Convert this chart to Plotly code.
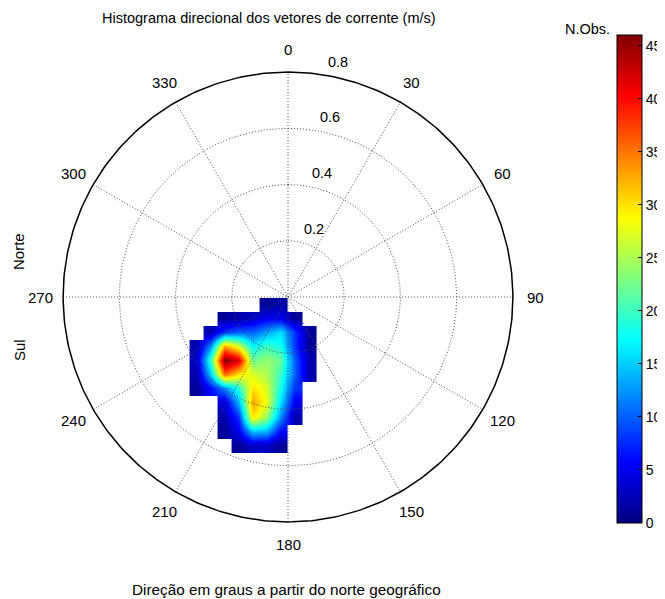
import numpy as np
import plotly.graph_objects as go

# ---------------- data ----------------
# velocity bins (m/s, bin centres): east (u) and north (v) components; values = number of observations
u_bins = [-0.375, -0.325, -0.275, -0.225, -0.175, -0.125, -0.075, -0.025, 0.025, 0.075, 0.125]
v_bins = [-0.575, -0.525, -0.475, -0.425, -0.375, -0.325, -0.275, -0.225, -0.175, -0.125, -0.075, -0.025, 0.025]
N = None
n_obs = [
    [N, N, N, N,  N,  N,  N,  N,  N, N, N],    # v = -0.575
    [N, N, N, N,  1,  3,  3,  1,  N, N, N],    # v = -0.525
    [N, N, N, 1,  5, 15, 14,  6,  N, N, N],    # v = -0.475
    [N, N, N, 2,  8, 30, 24, 12,  2, N, N],    # v = -0.425
    [N, N, N, 4, 14, 33, 28, 16,  5, N, N],    # v = -0.375
    [N, 1, 6, 12, 19, 30, 27, 18,  8, N, N],   # v = -0.325
    [N, 2, 15, 36, 30, 27, 25, 20, 10, 2, N],  # v = -0.275
    [N, 3, 20, 46, 42, 22, 24, 22, 10, 2, N],  # v = -0.225
    [N, 2, 12, 33, 27, 17, 20, 18,  8, 1, N],  # v = -0.175
    [N, N, 2,  8, 10, 10, 13, 16,  8, 1, N],   # v = -0.125
    [N, N, N,  1,  2,  3,  5,  5,  1, N, N],   # v = -0.075
    [N, N, N,  N,  N,  N,  1,  2,  N, N, N],   # v = -0.025
    [N, N, N,  N,  N,  N,  N,  N,  N, N, N],   # v =  0.025
]
ring_values = [0.2, 0.4, 0.6]
r_max = 0.8
ring_labels = ["0.2", "0.4", "0.6", "0.8"]
angle_ticks = [0, 30, 60, 90, 120, 150, 180, 210, 240, 270, 300, 330]
cbar_ticks = [0, 5, 10, 15, 20, 25, 30, 35, 40, 45]
z_max = 46

title_text = "Histograma direcional dos vetores de corrente (m/s)"
xlabel_text = "Direção em graus a partir do norte geográfico"

# MATLAB jet
jet = [[0.0, "rgb(0,0,128)"], [0.125, "rgb(0,0,255)"], [0.375, "rgb(0,255,255)"],
       [0.625, "rgb(255,255,0)"], [0.875, "rgb(255,0,0)"], [1.0, "rgb(128,0,0)"]]

FONT = "Liberation Sans, Arial, sans-serif"
W, H = 665, 599
OFF = 8                      # page body margin in the browser
L, T, PW, PH = 35 - OFF, 44 - OFF, 506, 506
RNG = 0.9

def px_paper_x(px):
    return (px - OFF - L) / PW

def px_paper_y(py):
    return (T + PH - (py - OFF)) / PH

fig = go.Figure()

fig.add_trace(go.Heatmap(
    x=u_bins, y=v_bins, z=n_obs, zmin=0, zmax=z_max, zsmooth="best",
    colorscale=jet, hoverinfo="skip",
    colorbar=dict(
        x=px_paper_x(617), xanchor="left", y=px_paper_y(35), yanchor="top",
        len=488, lenmode="pixels", thickness=25, thicknessmode="pixels",
        xpad=0, ypad=0, outlinewidth=1, outlinecolor="black",
        tickvals=cbar_ticks, ticks="inside", ticklen=4, tickcolor="black",
        tickfont=dict(family=FONT, size=14, color="black"),
    ),
))

grid_style = dict(color="#4a4a4a", width=1, dash="1px,2px")
theta = np.linspace(0, 2 * np.pi, 361)
# rings
for r in ring_values:
    fig.add_trace(go.Scatter(x=r * np.sin(theta), y=r * np.cos(theta), mode="lines",
                             line=grid_style, hoverinfo="skip", showlegend=False))
# spokes (full diameters)
for a in angle_ticks[:6]:
    t = np.deg2rad(a)
    fig.add_trace(go.Scatter(x=[-r_max * np.sin(t), r_max * np.sin(t)],
                             y=[-r_max * np.cos(t), r_max * np.cos(t)], mode="lines",
                             line=grid_style, hoverinfo="skip", showlegend=False))
# outer circle
fig.add_trace(go.Scatter(x=r_max * np.sin(theta), y=r_max * np.cos(theta), mode="lines",
                         line=dict(color="black", width=1.5), hoverinfo="skip", showlegend=False))

ann = []
# angle labels
for a in angle_ticks:
    t = np.deg2rad(a)
    ann.append(dict(x=1.1 * r_max * np.sin(t), y=1.1 * r_max * np.cos(t), xref="x", yref="y",
                    text=str(a), showarrow=False, font=dict(family=FONT, size=15, color="black")))
# ring labels
c82, s82 = np.cos(np.deg2rad(82)), np.sin(np.deg2rad(82))
for r, lab in zip(ring_values + [r_max], ring_labels):
    ann.append(dict(x=(r + 0.01) * c82, y=(r + 0.01) * s82, xref="x", yref="y",
                    text=lab, showarrow=False, xanchor="left", yanchor="bottom", xshift=6,
                    font=dict(family=FONT, size=14.5, color="black")))

def paper_text(px, py, text, size, angle=0):
    return dict(x=px_paper_x(px), y=px_paper_y(py), xref="paper", yref="paper", text=text,
                xanchor="center", yanchor="middle", textangle=angle, showarrow=False,
                font=dict(family=FONT, size=size, color="black"))

ann.append(paper_text(269, 18, title_text, 14.5))
ann.append(paper_text(286, 589, xlabel_text, 15.3))
ann.append(paper_text(19, 252, "Norte", 15, -90))
ann.append(paper_text(19, 350, "Sul", 15, -90))
ann.append(paper_text(587, 29, "N.Obs.", 14.5))

fig.update_layout(
    width=W, height=H, autosize=False,
    margin=dict(l=L, r=W - L - PW, t=T, b=H - T - PH, autoexpand=False),
    paper_bgcolor="white", plot_bgcolor="white",
    showlegend=False, annotations=ann,
    xaxis=dict(range=[-RNG, RNG], visible=False, fixedrange=True),
    yaxis=dict(range=[-RNG, RNG], visible=False, fixedrange=True),
)

fig.write_html("out.html")
